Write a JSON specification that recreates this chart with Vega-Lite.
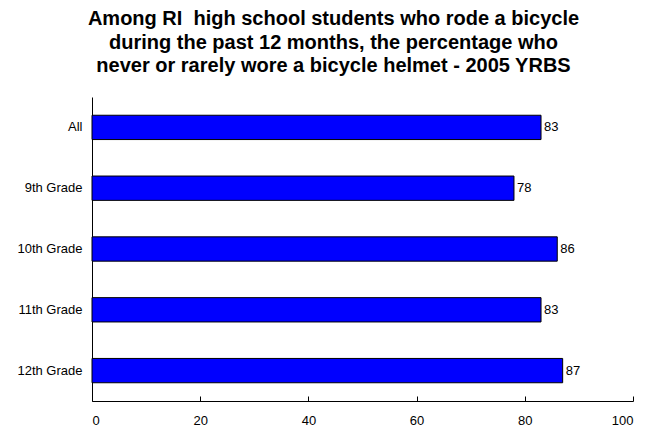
{
  "$schema": "https://vega.github.io/schema/vega-lite/v6.json",
  "autosize": "none",
  "width": 541,
  "height": 304,
  "padding": {"left": 92, "top": 97, "right": 24, "bottom": 33},
  "background": "white",
  "title": {
    "text": ["Among RI\u00a0 high school students who rode a bicycle", "during the past 12 months, the percentage who", "never or rarely wore a bicycle helmet - 2005 YRBS"],
    "font": "Liberation Sans",
    "fontSize": 20,
    "fontWeight": "bold",
    "color": "black",
    "anchor": "middle",
    "lineHeight": 23.5,
    "dx": -29,
    "offset": 21
  },
  "data": {
    "values": [
      {"group": "All", "pct": 83},
      {"group": "9th Grade", "pct": 78},
      {"group": "10th Grade", "pct": 86},
      {"group": "11th Grade", "pct": 83},
      {"group": "12th Grade", "pct": 87}
    ]
  },
  "config": {"view": {"stroke": null}},
  "encoding": {
    "y": {
      "field": "group",
      "type": "nominal",
      "sort": null,
      "scale": {"paddingInner": 0.6, "paddingOuter": 0.3},
      "axis": {
        "title": null,
        "ticks": false,
        "domain": true,
        "domainColor": "black",
        "domainWidth": 1,
        "labelFont": "Liberation Sans",
        "labelFontSize": 13,
        "labelColor": "black",
        "labelPadding": 10,
        "grid": false
      }
    },
    "x": {
      "field": "pct",
      "type": "quantitative",
      "scale": {"domain": [0, 100], "nice": false},
      "axis": {
        "title": null,
        "values": [0, 20, 40, 60, 80, 100],
        "grid": false,
        "domainColor": "black",
        "tickColor": "black",
        "tickSize": -5,
        "labelPadding": 18,
        "labelFont": "Liberation Sans",
        "labelFontSize": 13,
        "labelColor": "black"
      }
    }
  },
  "layer": [
    {"mark": {"type": "bar", "color": "#0000ff", "stroke": "black", "strokeWidth": 1}},
    {
      "mark": {"type": "text", "align": "left", "dx": 3, "font": "Liberation Sans", "fontSize": 13, "color": "black"},
      "encoding": {"text": {"field": "pct", "type": "quantitative"}}
    }
  ]
}
